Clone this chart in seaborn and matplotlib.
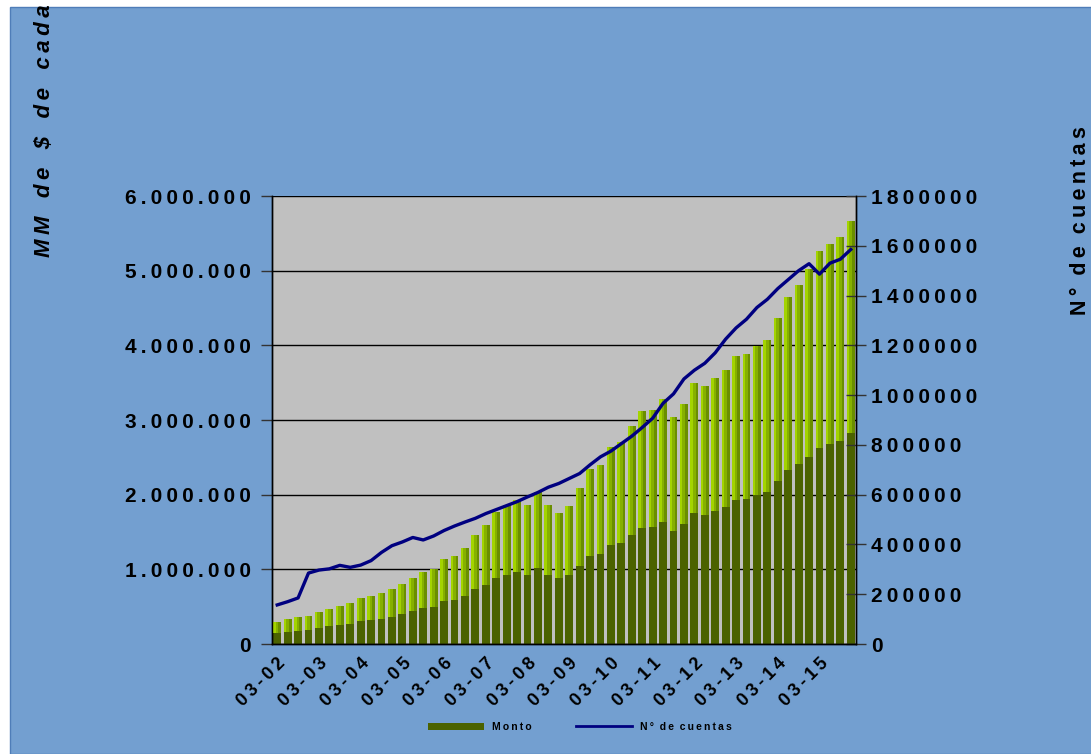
import numpy as np
import matplotlib
matplotlib.use("Agg")
import matplotlib.pyplot as plt
import seaborn as sns
from matplotlib.patches import Rectangle, Patch
from matplotlib.lines import Line2D
from matplotlib.ticker import FuncFormatter

# quarterly data, March 2002 .. December 2015
monto = [0.29, 0.33, 0.36, 0.375, 0.43, 0.47, 0.51, 0.545, 0.62, 0.64,
         0.68, 0.73, 0.80, 0.89, 0.96, 1.00, 1.14, 1.18, 1.29, 1.46,
         1.59, 1.77, 1.86, 1.93, 1.86, 2.03, 1.86, 1.76, 1.85, 2.09,
         2.35, 2.40, 2.64, 2.70, 2.92, 3.12, 3.14, 3.28, 3.04, 3.22,
         3.50, 3.46, 3.56, 3.67, 3.86, 3.88, 3.99, 4.07, 4.37, 4.65,
         4.81, 5.02, 5.26, 5.36, 5.45, 5.66]
monto = [v * 1e6 for v in monto]

cuentas = [157, 170, 185, 285, 297, 302, 316, 308, 317, 335,
           368, 395, 410, 428, 418, 434, 456, 474, 490, 505,
           524, 540, 556, 572, 591, 609, 630, 645, 665, 685,
           720, 752, 775, 805, 835, 870, 907, 967, 1005, 1065,
           1100, 1128, 1170, 1225, 1270, 1305, 1352, 1385, 1428, 1464,
           1500, 1528, 1486, 1530, 1546, 1585]
cuentas = [v * 1000 for v in cuentas]

x_labels = ["03-02", "03-03", "03-04", "03-05", "03-06", "03-07", "03-08",
            "03-09", "03-10", "03-11", "03-12", "03-13", "03-14", "03-15"]

idx = np.arange(len(monto))
TS = "\u2009"


def spaced(s, wordgap="  "):
    # wide letter spacing like the original sheet
    return wordgap.join(TS.join(word) for word in s.split(" "))


BLUE = "#739FD0"
DARK = "#4B6200"
MID = "#6A8E00"
LIGHT = "#86B000"
BRIGHT = "#A3D400"
NAVY = "#000080"

plt.rcParams["font.family"] = ["Liberation Sans", "DejaVu Sans"]
plt.rcParams["font.weight"] = "bold"

fig = plt.figure(figsize=(10.91, 7.54), dpi=100, facecolor="white")
fig.patches.append(Rectangle((10 / 1091, 0), 1, 747 / 754, transform=fig.transFigure,
                             facecolor=BLUE, edgecolor="#4F7DB8", linewidth=1, zorder=-10))

ax = fig.add_axes([272 / 1091, 1 - 644 / 754, 584 / 1091, 448 / 754])
ax.set_facecolor("#C0C0C0")

# bars: dark base, lit upper half (fake 3D shading)
w = 0.74
sns.barplot(x=idx, y=monto, color=DARK, saturation=1, width=w, ax=ax, zorder=2)
half = np.array(monto) / 2
ax.bar(idx, half, bottom=half, width=w, color=MID, linewidth=0, zorder=3)
ax.bar(idx - w / 2 + w * 0.325, half, bottom=half, width=w * 0.65, color=LIGHT,
       linewidth=0, zorder=4)
ax.bar(idx - w / 2 + w * 0.15, half, bottom=half, width=w * 0.3, color=BRIGHT,
       linewidth=0, zorder=5)

ax.set_xlim(-0.5, len(monto) - 0.5)
ax.set_ylim(0, 6e6)
ax.set_yticks(np.arange(0, 6.01e6, 1e6))
ax.yaxis.set_major_formatter(FuncFormatter(lambda v, p: spaced(f"{int(v):,}".replace(",", "."))))
ax.grid(axis="y", color="black", linewidth=1)
ax.set_axisbelow(True)
ax.set_xticks(idx[::4])
ax.set_xticklabels([spaced(s) for s in x_labels], rotation=45, ha="right",
                   rotation_mode="anchor", fontsize=13, fontweight="bold")
ax.tick_params(axis="x", length=0, pad=8)
ax.tick_params(axis="y", labelsize=15, length=8, width=1, pad=7, color="#333333")
ax.set_xlabel("")
for s in ax.spines.values():
    s.set_color("black")
    s.set_linewidth(1)

ax2 = ax.twinx()
sns.lineplot(x=idx, y=cuentas, color=NAVY, linewidth=2.4, ax=ax2, zorder=6)
ax2.set_ylim(0, 1.8e6)
ax2.set_yticks(np.arange(0, 1800001, 200000))
ax2.yaxis.set_major_formatter(FuncFormatter(lambda v, p: spaced(str(int(v)))))
ax2.tick_params(axis="y", labelsize=15, direction="inout", length=14, width=1,
                pad=4, color="#333333")
ax2.set_xlim(-0.5, len(monto) - 0.5)
for s in ax2.spines.values():
    s.set_color("black")
    s.set_linewidth(1)
ax2.spines["top"].set_visible(False)
ax.spines["top"].set_visible(False)

# left title is clipped by the top edge, as in the original
fig.text(45 / 1091, 1 - 257 / 754, spaced("MM de $ de cada año", "   "),
         rotation=90, ha="center", va="bottom", fontsize=16, fontweight="bold",
         fontstyle="italic")
fig.text(1081 / 1091, 1 - 315 / 754, spaced("N° de cuentas"),
         rotation=90, ha="center", va="bottom", fontsize=15.5, fontweight="bold")

handles = [Patch(facecolor=DARK, edgecolor="none"),
           Line2D([], [], color=NAVY, linewidth=2)]
fig.legend(handles, [spaced("Monto"), spaced("N° de cuentas")], loc="center",
           bbox_to_anchor=(580 / 1091, 1 - 727 / 754), ncol=2, frameon=False,
           prop={"size": 7.5, "weight": "bold"}, handlelength=5.3, columnspacing=4.3,
           handletextpad=0.8)

fig.savefig("out.png", dpi=100, facecolor="white")
